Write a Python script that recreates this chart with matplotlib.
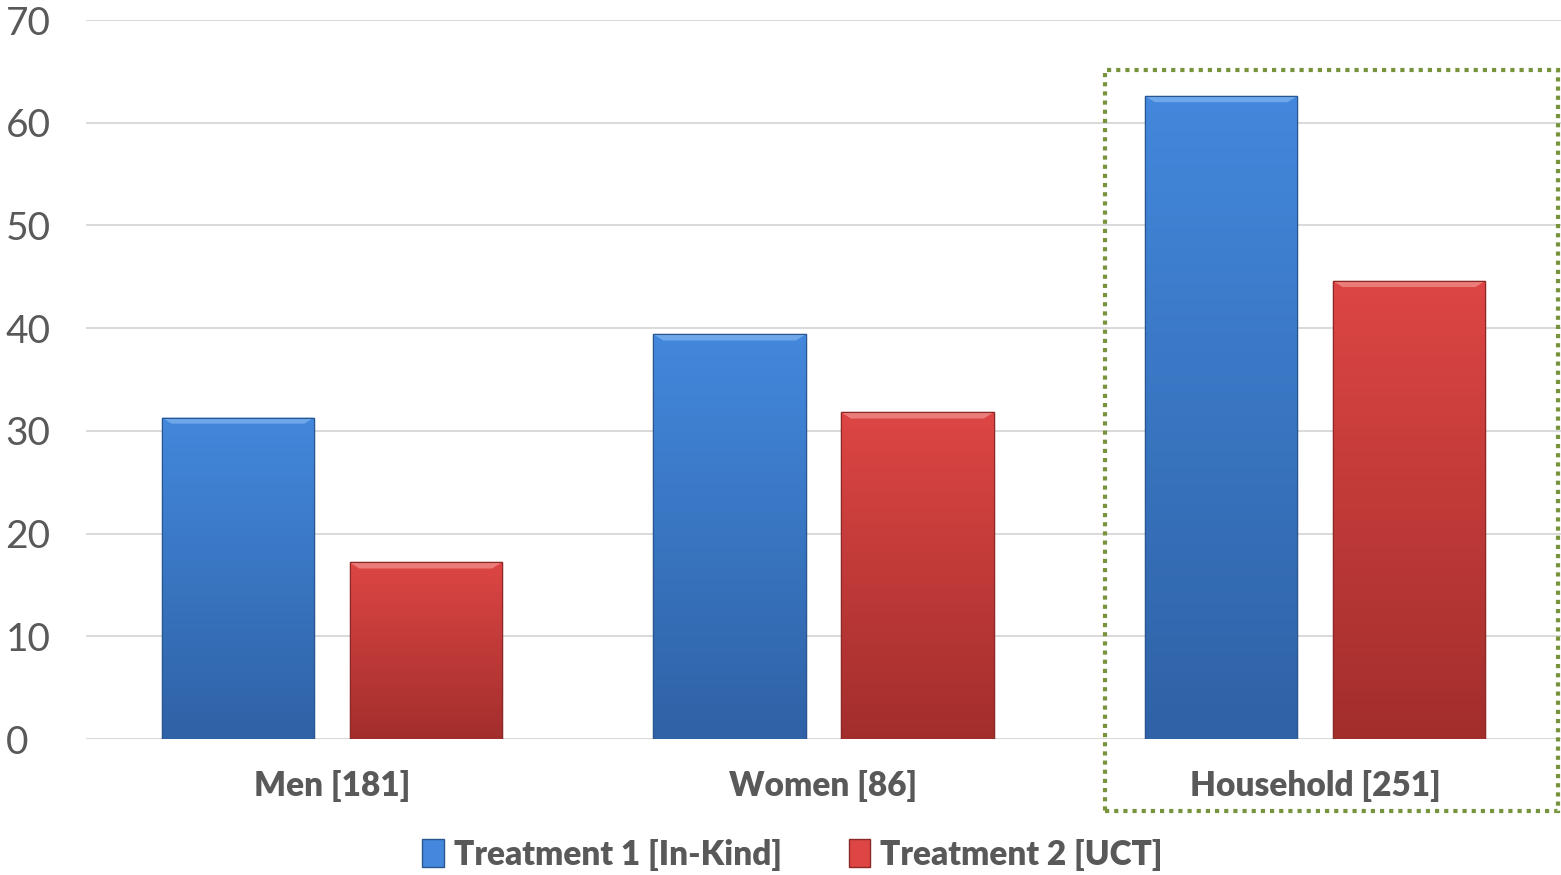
import numpy as np
import matplotlib.pyplot as plt
from matplotlib.patches import Rectangle, Polygon
from matplotlib.colors import LinearSegmentedColormap

categories = ['Men [181]', 'Women [86]', 'Household [251]']
series_names = ['Treatment 1 [In-Kind]', 'Treatment 2 [UCT]']
treatment1 = [31.3, 39.4, 62.6]
treatment2 = [17.2, 31.8, 44.6]
yticks = [0, 10, 20, 30, 40, 50, 60, 70]

plt.rcParams['font.family'] = ['Lato', 'DejaVu Sans']
txt = '#595959'

fig = plt.figure(figsize=(15.61, 8.75), dpi=100)
ax = fig.add_axes([86 / 1561, 1 - 739 / 875, 1475 / 1561, 719 / 875])

x = np.arange(len(categories))
w = 0.31
off = 0.191

# (top, bottom, edge, highlight)
styles = [('#4388dc', '#2f62a6', '#2a5690', '#7ab0ee'),
          ('#dd4644', '#a22e2c', '#8c2826', '#f08a88')]

grad = np.linspace(1, 0, 256).reshape(-1, 1)
for vals, sgn, (ctop, cbot, cedge, chi), name in zip(
        [treatment1, treatment2], [-1, 1], styles, series_names):
    bars = ax.bar(x + sgn * off, vals, w, color=ctop, edgecolor=cedge,
                  linewidth=1.0, zorder=3, label=name)
    cmap = LinearSegmentedColormap.from_list(name, [cbot, ctop])
    for b in bars:
        bx, by = b.get_x(), b.get_height()
        im = ax.imshow(grad, cmap=cmap, aspect='auto', zorder=3.5,
                       extent=[bx, bx + w, 0, by], interpolation='bicubic')
        im.set_clip_path(b)
        # bevel highlight across the top of each bar
        d = 0.6
        dx = 0.02
        ax.add_patch(Polygon([[bx, by], [bx + w, by], [bx + w - dx, by - d],
                              [bx + dx, by - d]], closed=True, facecolor=chi,
                             edgecolor='none', alpha=0.8, zorder=4))
        ax.add_patch(Rectangle((bx, 0), w, by, facecolor='none',
                               edgecolor=cedge, linewidth=0.8, zorder=4.5))

ax.set_xlim(-0.5, 2.5)
ax.set_ylim(0, 70)
ax.set_yticks(yticks)
ax.set_yticklabels([str(t) for t in yticks], fontsize=28, color=txt)
ax.set_xticks(x)
ax.set_xticklabels(categories, fontsize=24, fontweight='heavy', color=txt)
ax.tick_params(axis='both', length=0)
ax.tick_params(axis='y', pad=58)
ax.tick_params(axis='x', pad=22)
ax.yaxis.grid(True, color='#d9d9d9', linewidth=1.4, zorder=0)
ax.set_axisbelow(True)
for s in ax.spines.values():
    s.set_visible(False)
ax.axhline(0, color='#d9d9d9', linewidth=1.4, zorder=1)
for lbl in ax.get_yticklabels():
    lbl.set_horizontalalignment('left')

# dotted highlight around the household group
fig.patches.append(Rectangle((1105 / 1561, 1 - 811 / 875), 453 / 1561, 741 / 875,
                             transform=fig.transFigure, facecolor='none',
                             edgecolor='#77933c', linewidth=3,
                             linestyle=(0, (1, 1.2)), zorder=10))

leg = ax.legend(loc='center', bbox_to_anchor=(0.479, -0.161), ncol=2,
                frameon=False, fontsize=24, handlelength=0.65, handleheight=0.9,
                handletextpad=0.3, columnspacing=2.0, borderpad=0.1)
for t in leg.get_texts():
    t.set_color(txt)
    t.set_fontweight('heavy')

fig.savefig('out.png', dpi=100)
